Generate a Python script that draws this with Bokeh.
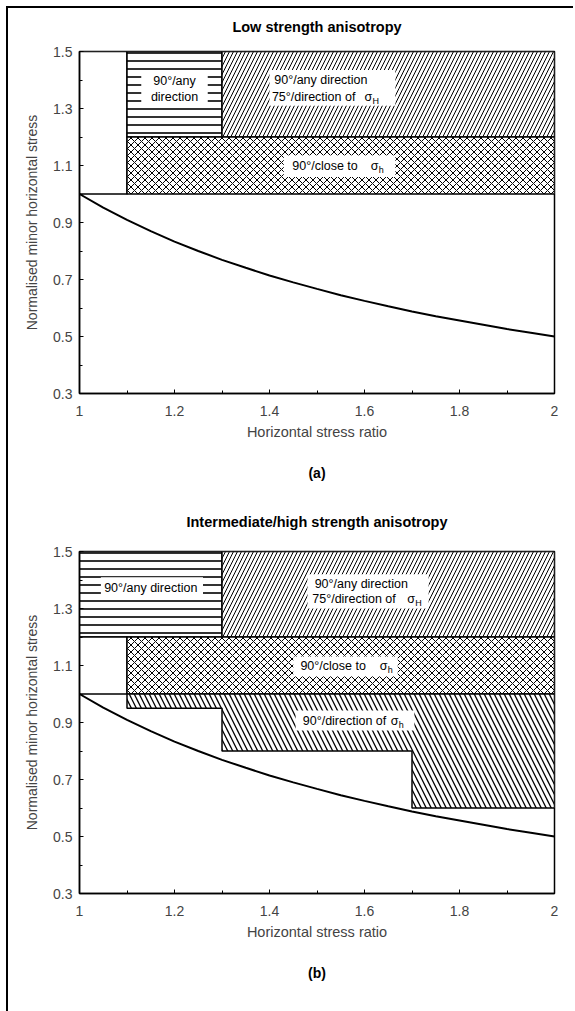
from bokeh.plotting import figure
from bokeh.models import (Range1d, Label, LinearAxis, FixedTicker, CustomJSTickFormatter,
                          BoxAnnotation)
from bokeh.layouts import column
from bokeh.embed import file_html
from bokeh.resources import INLINE

FONT = "Liberation Sans"

# ---- data ----
curve_x = [1.00, 1.05, 1.10, 1.15, 1.20, 1.25, 1.30, 1.35, 1.40, 1.45, 1.50,
           1.55, 1.60, 1.65, 1.70, 1.75, 1.80, 1.85, 1.90, 1.95, 2.00]
curve_y = [1.000, 0.952, 0.909, 0.870, 0.833, 0.800, 0.769, 0.741, 0.714, 0.690, 0.667,
           0.645, 0.625, 0.606, 0.588, 0.571, 0.556, 0.541, 0.526, 0.513, 0.500]

x_major = [1.0, 1.2, 1.4, 1.6, 1.8, 2.0]
x_minor = [1.1, 1.3, 1.5, 1.7, 1.9]
y_major = [0.3, 0.5, 0.7, 0.9, 1.1, 1.3, 1.5]
y_minor = [0.4, 0.6, 0.8, 1.0, 1.2, 1.4]

titles = ["Low strength anisotropy", "Intermediate/high strength anisotropy"]
tags = ["(a)", "(b)"]
x_title = "Horizontal stress ratio"
y_title = "Normalised minor horizontal stress"

# panel (a) zones: left, right, bottom, top
a_white = dict(left=[1.0], right=[1.1], bottom=[1.0], top=[1.5])
a_hline = dict(left=[1.1], right=[1.3], bottom=[1.2], top=[1.5])
a_diag = dict(left=[1.3], right=[2.0], bottom=[1.2], top=[1.5])
a_cross = dict(left=[1.1], right=[2.0], bottom=[1.0], top=[1.2])

# panel (b) zones
b_hline = dict(left=[1.0], right=[1.3], bottom=[1.2], top=[1.5])
b_diag = dict(left=[1.3], right=[2.0], bottom=[1.2], top=[1.5])
b_white = dict(left=[1.0], right=[1.1], bottom=[1.0], top=[1.2])
b_cross = dict(left=[1.1], right=[2.0], bottom=[1.0], top=[1.2])
b_step_edges = [1.1, 1.3, 1.7, 2.0]
b_step_bottoms = [0.95, 0.80, 0.60]
b_step_top = 1.0

fmt = CustomJSTickFormatter(code="return String(Math.round(tick*10)/10);")
TXT = "12.5px"


def text_axis(label, size, standoff):
    ax = LinearAxis(ticker=FixedTicker(ticks=[]), axis_label=label,
                    axis_line_color=None, major_tick_in=0, major_tick_out=0,
                    minor_tick_in=0, minor_tick_out=0, major_label_standoff=0,
                    axis_label_standoff=standoff, axis_label_text_font=FONT,
                    axis_label_text_font_size=size, axis_label_text_font_style="bold",
                    axis_label_text_color="black")
    return ax


def make_fig(title, tag, height, border_bottom, title_standoff):
    p = figure(width=565, height=height, x_range=Range1d(1, 2), y_range=Range1d(0.3, 1.5),
               output_backend="svg", toolbar_location=None,
               min_border_left=71, min_border_right=19, min_border_top=43,
               min_border_bottom=border_bottom)
    p.grid.visible = False
    p.outline_line_color = "black"
    p.outline_line_width = 1.5
    p.background_fill_color = "white"
    p.xaxis.ticker = FixedTicker(ticks=x_major, minor_ticks=x_minor)
    p.yaxis.ticker = FixedTicker(ticks=y_major, minor_ticks=y_minor)
    for ax in (p.xaxis[0], p.yaxis[0]):
        ax.formatter = fmt
        ax.axis_line_width = 1.5
        ax.major_tick_in = 4
        ax.major_tick_out = 0
        ax.minor_tick_in = 3
        ax.minor_tick_out = 0
        ax.major_label_text_font = FONT
        ax.major_label_text_font_size = "14px"
        ax.axis_label_text_font = FONT
        ax.axis_label_text_font_style = "normal"
    p.xaxis.axis_label_text_font_size = "14.5px"
    p.yaxis.axis_label_text_font_size = "14px"
    p.xaxis.axis_label = x_title
    p.yaxis.axis_label = y_title
    p.xaxis.major_label_standoff = 12
    p.xaxis.axis_label_standoff = 5
    p.yaxis.major_label_standoff = 7
    p.yaxis.axis_label_standoff = 10
    # chart title above the frame, panel tag below the x axis
    p.add_layout(text_axis(title, "14.5px", title_standoff), "above")
    p.add_layout(text_axis(tag, "14px", 22), "below")
    return p


def zone(p, d, pattern=None, scale=8, weight=1.0):
    kw = dict(fill_color="white", line_color="black", line_width=1.5)
    if pattern:
        kw.update(hatch_pattern=pattern, hatch_scale=scale, hatch_weight=weight,
                  hatch_color="black")
    p.quad(left=d["left"], right=d["right"], bottom=d["bottom"], top=d["top"], **kw)


def box(p, l, r, b, t):
    p.add_layout(BoxAnnotation(left=l, right=r, bottom=b, top=t, fill_color="white",
                               fill_alpha=1.0, line_color=None))


def lab(p, x, y, text, size=TXT, align="left", yoff=0):
    p.add_layout(Label(x=x, y=y, text=text, text_font=FONT, text_font_size=size,
                       text_align=align, text_baseline="middle", y_offset=yoff,
                       text_color="black"))


def sigma(p, x, y, sub):
    lab(p, x, y, "\u03c3", size=TXT)
    lab(p, x + 0.017, y, sub, size="9px", yoff=-4)


# ---------- panel (a) ----------
p1 = make_fig(titles[0], tags[0], 500, 115, 17)
zone(p1, a_white)
zone(p1, a_hline, "horizontal_line", 8, 1.6)
zone(p1, a_diag, "right_diagonal_line", 8, 1.0)
zone(p1, a_cross, "diagonal_cross", 7, 1.0)
p1.line(curve_x, curve_y, line_color="black", line_width=2)

box(p1, 1.13, 1.27, 1.31, 1.43)
lab(p1, 1.2, 1.397, "90°/any", align="center")
lab(p1, 1.2, 1.340, "direction", align="center")

box(p1, 1.40, 1.665, 1.31, 1.435)
lab(p1, 1.41, 1.400, "90°/any direction")
lab(p1, 1.405, 1.342, "75°/direction of")
sigma(p1, 1.600, 1.342, "H")

box(p1, 1.43, 1.665, 1.06, 1.135)
lab(p1, 1.448, 1.098, "90°/close to")
sigma(p1, 1.613, 1.098, "h")

# ---------- panel (b) ----------
p2 = make_fig(titles[1], tags[1], 503, 118, 22)
zone(p2, b_hline, "horizontal_line", 8, 1.6)
zone(p2, b_diag, "right_diagonal_line", 8, 1.0)
zone(p2, b_white)
zone(p2, b_cross, "diagonal_cross", 7, 1.0)
sx = [b_step_edges[0]]
sy = [b_step_top]
for i, b in enumerate(b_step_bottoms):
    sx += [b_step_edges[i], b_step_edges[i + 1]]
    sy += [b, b]
sx += [b_step_edges[-1]]
sy += [b_step_top]
p2.patch(sx, sy, fill_color="white", line_color="black", line_width=1.5,
         hatch_pattern="left_diagonal_line", hatch_scale=10, hatch_weight=1.3,
         hatch_color="black")
p2.line(curve_x, curve_y, line_color="black", line_width=2)

box(p2, 1.045, 1.26, 1.335, 1.41)
lab(p2, 1.15, 1.372, "90°/any direction", align="center")

box(p2, 1.48, 1.735, 1.30, 1.42)
lab(p2, 1.495, 1.385, "90°/any direction")
lab(p2, 1.49, 1.332, "75°/direction of")
sigma(p2, 1.69, 1.332, "H")

box(p2, 1.45, 1.67, 1.062, 1.132)
lab(p2, 1.465, 1.098, "90°/close to")
sigma(p2, 1.632, 1.098, "h")

box(p2, 1.455, 1.705, 0.872, 0.942)
lab(p2, 1.47, 0.907, "90°/direction of")
sigma(p2, 1.655, 0.907, "h")

layout = column(p1, p2, styles={"border-left": "2px solid black",
                                "border-top": "2px solid black",
                                "margin-left": "6px", "margin-top": "6px"})

open("out.html", "w").write(file_html(layout, INLINE))
